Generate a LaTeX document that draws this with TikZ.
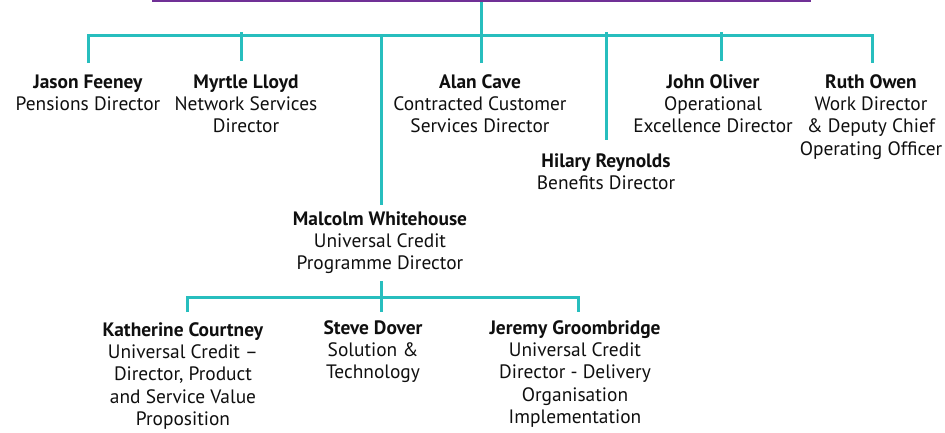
\documentclass[tikz,border=0pt]{standalone}
\usepackage{fontspec}
\setmainfont{PT Sans}
\definecolor{teal1}{RGB}{40,190,190}
\definecolor{purp}{RGB}{112,48,150}
\definecolor{ink}{RGB}{15,15,15}
\begin{document}
\begin{tikzpicture}[x=1pt,y=-1pt,
  person/.style={anchor=north,align=center,inner sep=0pt,text=ink,
    font=\fontsize{19.4}{22.4}\selectfont},
  link/.style={draw=teal1,line width=3pt}]
\useasboundingbox (0,0) rectangle (945,432);
\begin{scope}
\clip (0,0) rectangle (945,432);
\node[draw=purp,line width=3pt,minimum width=656pt,minimum height=40pt,inner sep=0pt,anchor=south west] (top) at (152,2) {};
\end{scope}
% people (north = baseline - 0.7*22.4)
\node[person] (jason) at (88,72.3) {\strut\textbf{Jason Feeney}\\Pensions Director};
\node[person] (myrtle) at (246,72.3) {\strut\textbf{Myrtle Lloyd}\\Network Services\\Director};
\node[person] (alan) at (480,72.3) {\strut\textbf{Alan Cave}\\Contracted Customer\\Services Director};
\node[person] (hilary) at (606,151.3) {\strut\textbf{Hilary Reynolds}\\Benefits Director};
\node[person] (john) at (713,72.3) {\strut\textbf{John Oliver}\\Operational\\Excellence Director};
\node[person] (ruth) at (871,72.3) {\strut\textbf{Ruth Owen}\\Work Director\\\& Deputy Chief\\Operating Officer};
\node[person] (malcolm) at (380,209.3) {\strut\textbf{Malcolm Whitehouse}\\Universal Credit\\Programme Director};
\node[person] (kath) at (183,320.3) {\strut\textbf{Katherine Courtney}\\Universal Credit –\\Director, Product\\and Service Value\\Proposition};
\node[person] (steve) at (373,318.3) {\strut\textbf{Steve Dover}\\Solution \&\\Technology};
\node[person] (jeremy) at (575,318.3) {\strut\textbf{Jeremy Groombridge}\\Universal Credit\\Director - Delivery\\Organisation\\Implementation};
% junction coordinates
\coordinate (bL) at (88,35);
\coordinate (bR) at (872,35);
\coordinate (jA) at (481,35);
\coordinate (dJason) at (88,63);
\coordinate (tMyrtle) at (241,32); \coordinate (dMyrtle) at (241,61);
\coordinate (jMal) at (381,35); \coordinate (dMal) at (381,205);
\coordinate (dAlan) at (481,63);
\coordinate (tHil) at (606,32); \coordinate (dHil) at (606,140);
\coordinate (tJohn) at (721,32); \coordinate (dJohn) at (721,61);
\coordinate (dRuth) at (872,63);
\coordinate (uMal) at (381,281);
\coordinate (lL) at (187,297); \coordinate (lR) at (578,297);
\coordinate (dKath) at (187,312); \coordinate (dSteve) at (381,312); \coordinate (dJer) at (578,312);
% connectors
\draw[link] (top.south -| jA) -- (dAlan);
\draw[link] (dJason) -- (bL) -- (bR) -- (dRuth);
\draw[link] (tMyrtle) -- (dMyrtle);
\draw[link] (jMal) -- (dMal);
\draw[link] (tHil) -- (dHil);
\draw[link] (tJohn) -- (dJohn);
\draw[link] (uMal) -- (dSteve);
\draw[link] (dKath) -- (lL) -- (lR) -- (dJer);
\end{tikzpicture}
\end{document}
